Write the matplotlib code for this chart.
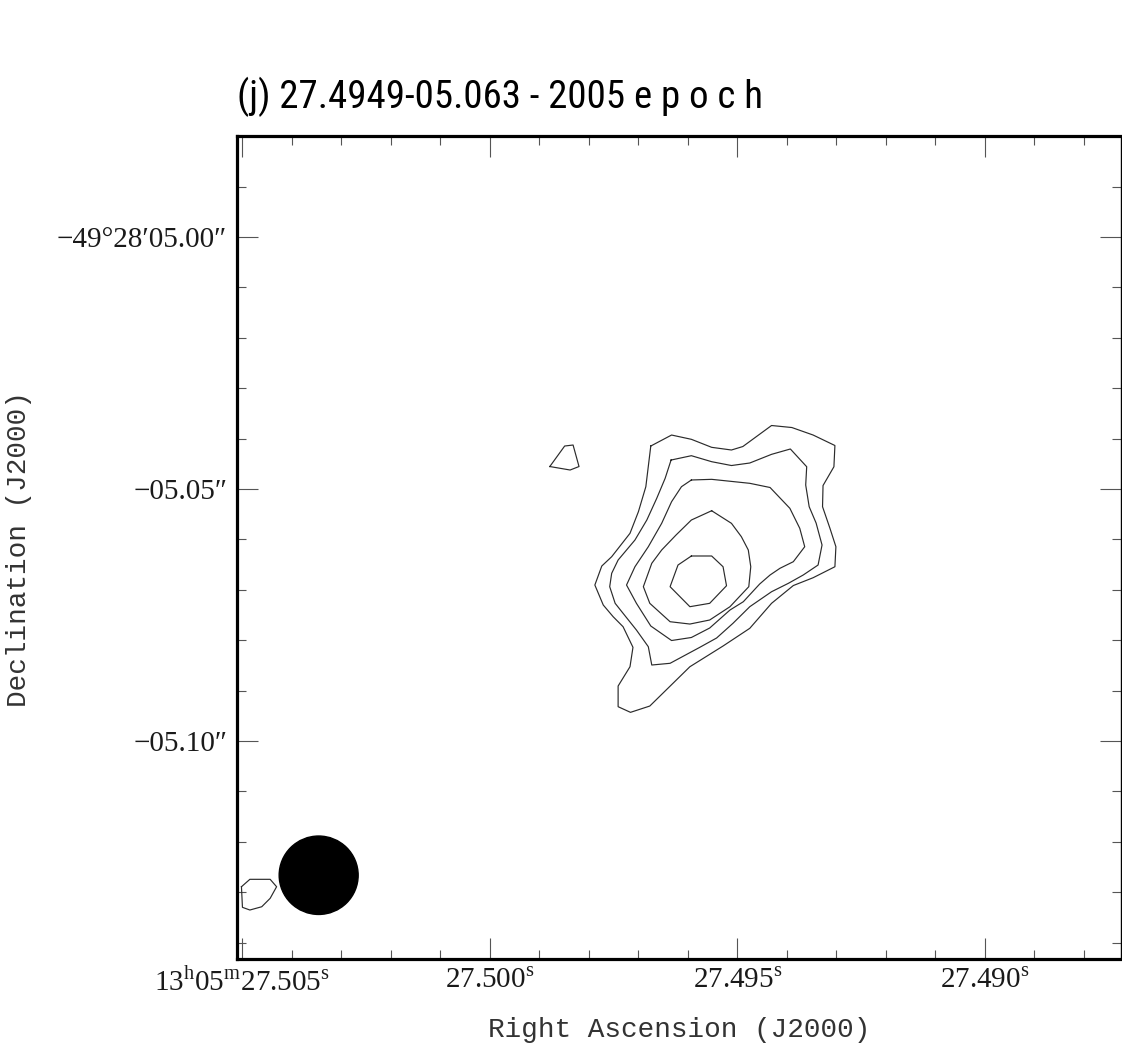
import numpy as np
import matplotlib
matplotlib.use("Agg")
import matplotlib.pyplot as plt
from matplotlib.patches import Ellipse
from matplotlib.ticker import FixedLocator, MultipleLocator

# ------------------------------------------------------------
# data: contour vertices (RA seconds past 13h05m, Dec arcsec past -49d28')
# ------------------------------------------------------------
title = "(j) 27.4949-05.063 - 2005 e p o c h"

c1_ra = [27.49675, 27.49633, 27.49593, 27.49552, 27.49512, 27.49489, 27.49431, 27.49390,
         27.49347, 27.49303, 27.49305, 27.49327, 27.49328, 27.49313, 27.49301, 27.49303,
         27.49347, 27.49387, 27.49431, 27.49475, 27.49529, 27.49596, 27.49677, 27.49716,
         27.49741, 27.49741, 27.49717, 27.49711, 27.49731, 27.49751, 27.49771, 27.49788,
         27.49774, 27.49754, 27.49717, 27.49700, 27.49685]
c1_dec = [-5.04147, -5.03929, -5.04014, -5.04173, -5.04226, -5.04157, -5.03740, -5.03780,
          -5.03929, -5.04137, -5.04558, -5.04931, -5.05351, -5.05780, -5.06145, -5.06542,
          -5.06760, -5.06915, -5.07268, -5.07764, -5.08115, -5.08526, -5.09306, -5.09431,
          -5.09319, -5.08909, -5.08526, -5.08141, -5.07732, -5.07534, -5.07302, -5.06905,
          -5.06528, -5.06343, -5.05879, -5.05450, -5.04954]

c2_ra = [27.49634, 27.49593, 27.49552, 27.49512, 27.49475, 27.49431, 27.49393, 27.49360,
         27.49362, 27.49355, 27.49341, 27.49329, 27.49337, 27.49367, 27.49397, 27.49431,
         27.49475, 27.49509, 27.49542, 27.49576, 27.49636, 27.49673, 27.49680, 27.49704,
         27.49731, 27.49747, 27.49758, 27.49754, 27.49741, 27.49707, 27.49683, 27.49663,
         27.49646]
c2_dec = [-5.04425, -5.04339, -5.04458, -5.04534, -5.04484, -5.04312, -5.04206, -5.04558,
          -5.04921, -5.05351, -5.05675, -5.06111, -5.06508, -5.06706, -5.06871, -5.07038,
          -5.07335, -5.07665, -5.07956, -5.08141, -5.08458, -5.08492, -5.08129, -5.07798,
          -5.07466, -5.07268, -5.06938, -5.06673, -5.06409, -5.06012, -5.05615, -5.05185,
          -5.04788]

c3_ra = [27.49593, 27.49552, 27.49475, 27.49434, 27.49394, 27.49374, 27.49364, 27.49387,
         27.49414, 27.49434, 27.49455, 27.49488, 27.49515, 27.49556, 27.49593, 27.49633,
         27.49675, 27.49704, 27.49724, 27.49707, 27.49680, 27.49653, 27.49633, 27.49613]
c3_dec = [-5.04821, -5.04808, -5.04887, -5.04970, -5.05383, -5.05780, -5.06145, -5.06442,
          -5.06573, -5.06706, -5.06885, -5.07236, -5.07401, -5.07758, -5.07946, -5.08006,
          -5.07718, -5.07268, -5.06905, -5.06542, -5.06145, -5.05681, -5.05252, -5.04954]

c4_ra = [27.49552, 27.49512, 27.49492, 27.49478, 27.49473, 27.49477, 27.49515, 27.49556,
         27.49596, 27.49636, 27.49677, 27.49690, 27.49673, 27.49653, 27.49624, 27.49593]
c4_dec = [-5.05431, -5.05681, -5.05946, -5.06210, -5.06542, -5.06938, -5.07335, -5.07599,
          -5.07679, -5.07633, -5.07268, -5.06938, -5.06474, -5.06210, -5.05913, -5.05615]

c5_ra = [27.49593, 27.49552, 27.49529, 27.49522, 27.49556, 27.49596, 27.49636, 27.49620]
c5_dec = [-5.06329, -5.06329, -5.06542, -5.06919, -5.07268, -5.07335, -5.06938, -5.06508]

# small isolated islands
isl1_ra = [27.49879, 27.49849, 27.49832, 27.49820, 27.49838]
isl1_dec = [-5.04554, -5.04147, -5.04127, -5.04554, -5.04623]
isl2_ra = [27.50502, 27.50485, 27.50444, 27.50431, 27.50444, 27.50461, 27.50485, 27.50500]
isl2_dec = [-5.12891, -5.12744, -5.12744, -5.12891, -5.13121, -5.13288, -5.13353, -5.13300]

# restoring beam
beam_ra, beam_dec = 27.50346, -5.12663
beam_w, beam_h = 0.001596, 0.01556

ra_ticks = [27.505, 27.500, 27.495, 27.490]
ra_labels = [r"13$^{\rm h}$05$^{\rm m}$27.505$^{\rm s}$", r"27.500$^{\rm s}$",
             r"27.495$^{\rm s}$", r"27.490$^{\rm s}$"]
dec_ticks = [-5.00, -5.05, -5.10]
dec_labels = ["\u221249\u00b028\u203205.00\u2033", "\u221205.05\u2033", "\u221205.10\u2033"]

ra_lim = (27.50511, 27.48726)
dec_lim = (-5.14315, -4.97986)

# ------------------------------------------------------------
# plot
# ------------------------------------------------------------
plt.rcParams['font.family'] = ['Liberation Serif', 'DejaVu Serif']
plt.rcParams['mathtext.fontset'] = 'custom'
plt.rcParams['mathtext.rm'] = 'Liberation Serif'

W, H = 1122, 1054
fig = plt.figure(figsize=(W/100, H/100), dpi=100)
ax = fig.add_axes([237/W, (H-958.5)/H, (1120.5-237)/W, (958.5-135.5)/H])

for xs, ys in [(c1_ra, c1_dec), (c2_ra, c2_dec), (c3_ra, c3_dec), (c4_ra, c4_dec),
               (c5_ra, c5_dec), (isl1_ra, isl1_dec), (isl2_ra, isl2_dec)]:
    ax.plot(np.append(xs, xs[0]), np.append(ys, ys[0]), color='#2b2b2b', lw=0.85)

ax.add_patch(Ellipse((beam_ra, beam_dec), beam_w, beam_h, color='black'))

ax.set_xlim(*ra_lim)
ax.set_ylim(*dec_lim)

ax.xaxis.set_major_locator(FixedLocator(ra_ticks))
ax.xaxis.set_minor_locator(MultipleLocator(0.001))
ax.set_xticklabels(ra_labels)
ax.yaxis.set_major_locator(FixedLocator(dec_ticks))
ax.yaxis.set_minor_locator(MultipleLocator(0.01))
ax.set_yticklabels(dec_labels)

ax.tick_params(which='both', direction='in', top=True, right=True,
               color='#555555', width=0.8, labelsize=21, labelcolor='#1a1a1a')
ax.tick_params(which='major', length=15, pad=7)
ax.tick_params(which='minor', length=6.5)

for s in ['left', 'top', 'bottom']:
    ax.spines[s].set_linewidth(2.3)
ax.spines['right'].set_linewidth(1.0)

mono = ['Liberation Mono', 'DejaVu Sans Mono']
ax.set_xlabel("Right Ascension (J2000)", fontsize=20, family=mono, color='#333333')
ax.xaxis.set_label_coords(0.5, -0.071)
ax.set_ylabel("Declination (J2000)", fontsize=20, family=mono, color='#333333')
ax.yaxis.set_label_coords(-0.232, 0.497)

ax.set_title(title, loc='left', pad=19.8, fontsize=28, fontstretch='condensed',
             family=['Liberation Sans Narrow', 'Roboto Condensed', 'DejaVu Sans'])

fig.savefig("out.png", dpi=100)
